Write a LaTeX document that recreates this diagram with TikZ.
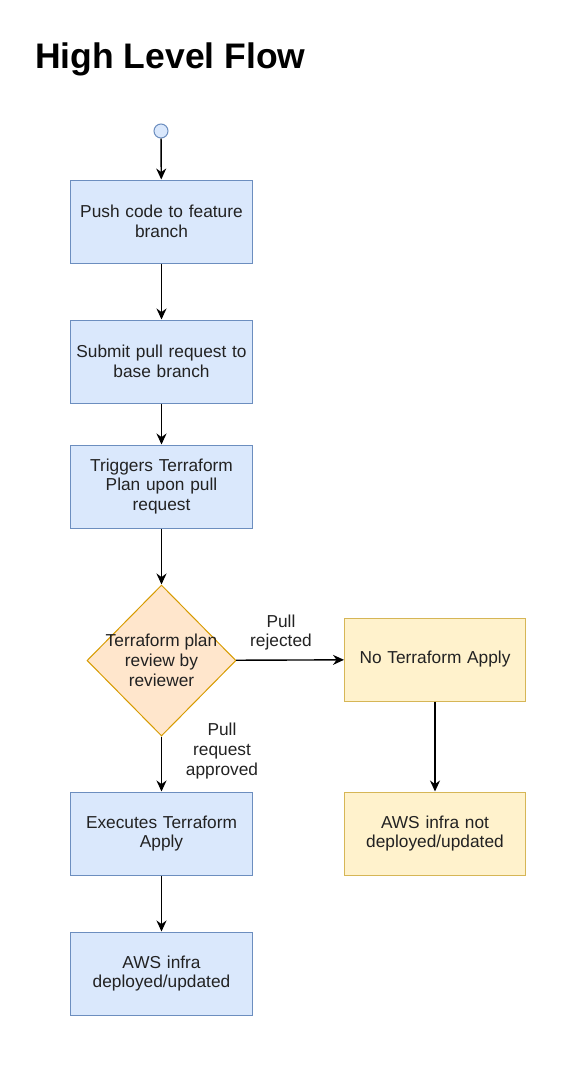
\documentclass[tikz,border=0pt]{standalone}
\usepackage{fontspec}
\setmainfont{Liberation Sans}
\usetikzlibrary{shapes.geometric,arrows.meta}
\definecolor{bfill}{HTML}{DAE8FC}
\definecolor{bline}{HTML}{6C8EBF}
\definecolor{yfill}{HTML}{FFF2CC}
\definecolor{yline}{HTML}{D6B656}
\definecolor{ofill}{HTML}{FFE6CC}
\definecolor{oline}{HTML}{D79B00}
\definecolor{txt}{HTML}{222222}
\tikzset{
  x=1pt,y=-1pt,
  base/.style={text=txt,font=\fontsize{17.3}{19.8}\selectfont,align=center,inner sep=2pt},
  bluebox/.style={base,draw=bline,fill=bfill,line width=1pt,minimum width=181pt,minimum height=83pt,text width=178pt},
  yelbox/.style={base,draw=yline,fill=yfill,line width=1pt,minimum width=180pt,minimum height=83pt,text width=177pt},
  decis/.style={diamond,draw=oline,fill=ofill,line width=1pt,minimum width=149pt,minimum height=151pt,inner sep=0pt,aspect=0.99},
  conn/.style={-{Stealth[length=11pt,width=10pt]},line width=1.4pt,black},
  lbl/.style={base}
}
\begin{document}
\begin{tikzpicture}
\useasboundingbox (0,0) rectangle (572,1068);
\node[anchor=base west,font=\fontsize{35.5}{38}\selectfont\bfseries,inner sep=0pt,text=black] (title) at (35,68) {High Level Flow};
\node[circle,draw=bline,fill=bfill,line width=1pt,minimum size=14pt,inner sep=0pt] (start) at (161,131) {};
\node[bluebox] (b1) at (161.5,221.5) {Push code to feature\\branch};
\node[bluebox] (b2) at (161.5,361.5) {Submit pull request to\\base branch};
\node[bluebox] (b3) at (161.5,486.5) {Triggers Terraform\\Plan upon pull\\request};
\node[decis] (d) at (161.5,660.5) {};
\node[base] (dt) at (161.5,660.5) {Terraform plan\\review by\\reviewer};
\node[yelbox] (n1) at (435,659.5) {No Terraform Apply};
\node[bluebox] (b4) at (161.5,833.5) {Executes Terraform\\Apply};
\node[yelbox] (n2) at (435,833.5) {AWS infra not\\deployed/updated};
\node[bluebox] (b5) at (161.5,973.5) {AWS infra\\deployed/updated};
\draw[conn] (start) -- (b1);
\draw[conn] (b1) -- (b2);
\draw[conn] (b2) -- (b3);
\draw[conn] (b3) -- (d);
\draw[conn] (d) -- (n1);
\node[lbl] (l1) at (281,632.5) {Pull\\rejected};
\draw[conn] (d) -- (b4);
\node[lbl] (l2) at (222,751) {Pull\\request\\approved};
\draw[conn] (n1) -- (n2);
\draw[conn] (b4) -- (b5);
\end{tikzpicture}
\end{document}
